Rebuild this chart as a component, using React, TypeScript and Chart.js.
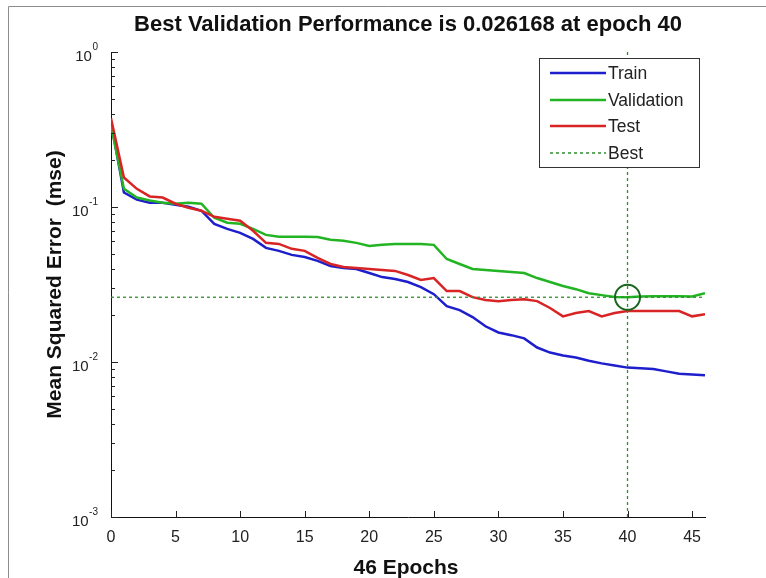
import React, { useEffect, useRef } from "react";
import { Chart, registerables } from "chart.js";

Chart.register(...registerables);

const epochs = [
  0, 1, 2, 3, 4, 5, 6, 7, 8, 9, 10, 11, 12, 13, 14, 15, 16, 17, 18, 19, 20, 21, 22, 23,
  24, 25, 26, 27, 28, 29, 30, 31, 32, 33, 34, 35, 36, 37, 38, 39, 40, 41, 42, 43, 44, 45, 46,
];

const trainMse = [
  0.352, 0.124, 0.1115, 0.1066, 0.1066, 0.1035, 0.1004, 0.0946, 0.0779, 0.0723, 0.0681, 0.0623,
  0.0545, 0.0521, 0.0491, 0.0476, 0.0449, 0.0416, 0.0404, 0.0398, 0.0375, 0.0353, 0.0343, 0.0328,
  0.0304, 0.0274, 0.0229, 0.0216, 0.0195, 0.017, 0.0155, 0.0149, 0.0142, 0.0124, 0.0115, 0.011,
  0.0107, 0.0102, 0.0098, 0.0095, 0.0092, 0.0091, 0.009, 0.0087, 0.0084, 0.0083, 0.0082,
];

const validationMse = [
  0.336, 0.131, 0.115, 0.11, 0.1066, 0.105, 0.1066, 0.105, 0.0852, 0.0791, 0.0779, 0.0723,
  0.0661, 0.0642, 0.0642, 0.0642, 0.064, 0.0614, 0.0605, 0.0587, 0.0561, 0.057, 0.0578, 0.0578,
  0.0578, 0.057, 0.0462, 0.0429, 0.0398, 0.0392, 0.0387, 0.0381, 0.0375, 0.0348, 0.0328, 0.0309,
  0.0295, 0.0278, 0.027, 0.0263, 0.026168, 0.0265, 0.0266, 0.0266, 0.0266, 0.0265, 0.0278,
];

const testMse = [
  0.3735, 0.155, 0.131, 0.117, 0.115, 0.105, 0.099, 0.0946, 0.0865, 0.084, 0.0815, 0.0702,
  0.0587, 0.0578, 0.0537, 0.0521, 0.0469, 0.0429, 0.041, 0.0404, 0.0398, 0.0392, 0.0387, 0.0364,
  0.0338, 0.0348, 0.0287, 0.0287, 0.0262, 0.0251, 0.0247, 0.0251, 0.0254, 0.0247, 0.0223, 0.0197,
  0.0207, 0.0213, 0.0197, 0.0207, 0.0213, 0.0213, 0.0213, 0.0213, 0.0213, 0.0197, 0.0203,
];

const bestEpoch = 40;
const bestPerf = 0.026168;
const xTicks = [0, 5, 10, 15, 20, 25, 30, 35, 40, 45];
const yTicks = [0.001, 0.01, 0.1, 1];
const yExponents = ["-3", "-2", "-1", "0"];
const seriesNames = ["Train", "Validation", "Test", "Best"];
const titleText = "Best Validation Performance is 0.026168 at epoch 40";
const xTitle = "46 Epochs";
const yTitle = "Mean Squared Error  (mse)";

const FONT = '"Liberation Sans", Arial, Helvetica, sans-serif';
const BLUE = "#1e1ecc";
const GREEN = "#22b422";
const RED = "#d82424";
const BESTC = "#2f8f2f";
const CIRCLE = "#16651c";

const decor = {
  id: "decor",
  afterDraw(chart: any) {
    const { ctx, chartArea: a, scales } = chart;
    const x = scales.x;
    const y = scales.y;
    ctx.save();

    // outer frame
    ctx.strokeStyle = "#8c8c8c";
    ctx.lineWidth = 1;
    ctx.beginPath();
    ctx.moveTo(8.5, 578);
    ctx.lineTo(8.5, 6.5);
    ctx.lineTo(766, 6.5);
    ctx.stroke();

    // inward ticks
    ctx.strokeStyle = "#222";
    ctx.lineWidth = 1;
    ctx.beginPath();
    for (let n = -3; n <= -1; n++) {
      for (let k = 2; k <= 9; k++) {
        const py = Math.round(y.getPixelForValue(k * Math.pow(10, n))) + 0.5;
        ctx.moveTo(a.left, py);
        ctx.lineTo(a.left + 4, py);
      }
    }
    yTicks.forEach((v) => {
      const py = Math.round(y.getPixelForValue(v)) + 0.5;
      ctx.moveTo(a.left, py);
      ctx.lineTo(a.left + 7, py);
    });
    xTicks.forEach((v) => {
      const px = Math.round(x.getPixelForValue(v)) + 0.5;
      ctx.moveTo(px, a.bottom);
      ctx.lineTo(px, a.bottom - 6);
    });
    ctx.stroke();

    // y tick labels with superscripts
    ctx.fillStyle = "#222";
    const R = 98;
    yTicks.forEach((v, i) => {
      const py = y.getPixelForValue(v);
      ctx.font = `10px ${FONT}`;
      ctx.textAlign = "right";
      ctx.textBaseline = "middle";
      const e = yExponents[i];
      const ew = ctx.measureText(e).width;
      ctx.fillText(e, R, py - 5);
      ctx.font = `15px ${FONT}`;
      ctx.fillText("10", R - ew - 0.5, py + 5);
    });

    // titles
    ctx.fillStyle = "#111";
    ctx.font = `bold 22px ${FONT}`;
    ctx.textAlign = "center";
    ctx.textBaseline = "alphabetic";
    ctx.fillText(titleText, (a.left + a.right) / 2, 31);
    ctx.font = `bold 21px ${FONT}`;
    ctx.fillText(xTitle, (a.left + a.right) / 2 - 2, 574);
    ctx.save();
    ctx.translate(61, (a.top + a.bottom) / 2);
    ctx.rotate(-Math.PI / 2);
    ctx.font = `bold 21px ${FONT}`;
    ctx.fillText(yTitle, 0, 0);
    ctx.restore();

    // legend
    const L = 539.5, T = 58.5, W = 160, H = 109;
    ctx.fillStyle = "#fff";
    ctx.fillRect(L, T, W, H);
    ctx.strokeStyle = "#333";
    ctx.lineWidth = 1;
    ctx.strokeRect(L, T, W, H);
    const colors = [BLUE, GREEN, RED, BESTC];
    const rows = [73, 100, 126, 153];
    rows.forEach((ry, i) => {
      ctx.strokeStyle = colors[i];
      ctx.lineWidth = i < 3 ? 2.5 : 1.3;
      ctx.setLineDash(i < 3 ? [] : [3, 3]);
      ctx.beginPath();
      ctx.moveTo(550, ry);
      ctx.lineTo(606, ry);
      ctx.stroke();
      ctx.setLineDash([]);
      ctx.fillStyle = "#222";
      ctx.font = `17.5px ${FONT}`;
      ctx.textAlign = "left";
      ctx.textBaseline = "middle";
      ctx.fillText(seriesNames[i], 608, ry + 1);
    });

    ctx.restore();
  },
};

export default function App() {
  const ref = useRef<HTMLCanvasElement | null>(null);

  useEffect(() => {
    if (!ref.current) return;
    const pts = (arr: number[]) => epochs.map((e, i) => ({ x: e, y: arr[i] }));
    const chart = new Chart(ref.current, {
      type: "line",
      data: {
        datasets: [
          {
            label: "Best circle",
            data: [{ x: bestEpoch, y: bestPerf }],
            showLine: false,
            pointRadius: 12.5,
            pointBorderWidth: 2,
            pointBorderColor: CIRCLE,
            pointBackgroundColor: "rgba(0,0,0,0)",
            order: 0,
          },
          {
            label: "Best horizontal",
            data: [{ x: 0, y: bestPerf }, { x: 46, y: bestPerf }],
            borderColor: BESTC,
            borderWidth: 1.3,
            borderDash: [3, 3],
            pointRadius: 0,
            order: 1,
          },
          {
            label: "Best vertical",
            data: [{ x: bestEpoch, y: 0.001 }, { x: bestEpoch, y: 1 }],
            borderColor: BESTC,
            borderWidth: 1.3,
            borderDash: [3, 3],
            pointRadius: 0,
            order: 2,
          },
          {
            label: "Test",
            data: pts(testMse),
            borderColor: RED,
            borderWidth: 2.5,
            pointRadius: 0,
            tension: 0,
            order: 3,
          },
          {
            label: "Validation",
            data: pts(validationMse),
            borderColor: GREEN,
            borderWidth: 2.5,
            pointRadius: 0,
            tension: 0,
            order: 4,
          },
          {
            label: "Train",
            data: pts(trainMse),
            borderColor: BLUE,
            borderWidth: 2.5,
            pointRadius: 0,
            tension: 0,
            order: 5,
          },
        ],
      },
      options: {
        animation: false,
        responsive: false,
        maintainAspectRatio: false,
        events: [],
        layout: { padding: { top: 52, right: 61, left: 0, bottom: 0 } },
        plugins: {
          legend: { display: false },
          title: { display: false },
          tooltip: { enabled: false },
        },
        scales: {
          x: {
            type: "linear",
            min: 0,
            max: 46,
            afterFit: (s: any) => {
              s.height = 61;
            },
            afterBuildTicks: (s: any) => {
              s.ticks = xTicks.map((v) => ({ value: v }));
            },
            grid: { display: true, drawOnChartArea: false, drawTicks: false },
            border: { display: true, color: "#111", width: 1 },
            ticks: {
              padding: 11,
              color: "#222",
              font: { family: FONT, size: 16 },
              maxRotation: 0,
              autoSkip: false,
            },
          },
          y: {
            type: "logarithmic",
            min: 0.001,
            max: 1,
            afterFit: (s: any) => {
              s.width = 111;
            },
            afterBuildTicks: (s: any) => {
              s.ticks = yTicks.map((v) => ({ value: v }));
            },
            grid: { display: true, drawOnChartArea: false, drawTicks: false },
            border: { display: true, color: "#111", width: 1 },
            ticks: { display: false },
          },
        },
      },
      plugins: [decor],
    });
    return () => chart.destroy();
  }, []);

  return (
    <div style={{ position: "fixed", left: 0, top: 0, width: 766, height: 578, background: "#fff" }}>
      <canvas ref={ref} width={766} height={578} style={{ display: "block" }} />
    </div>
  );
}
